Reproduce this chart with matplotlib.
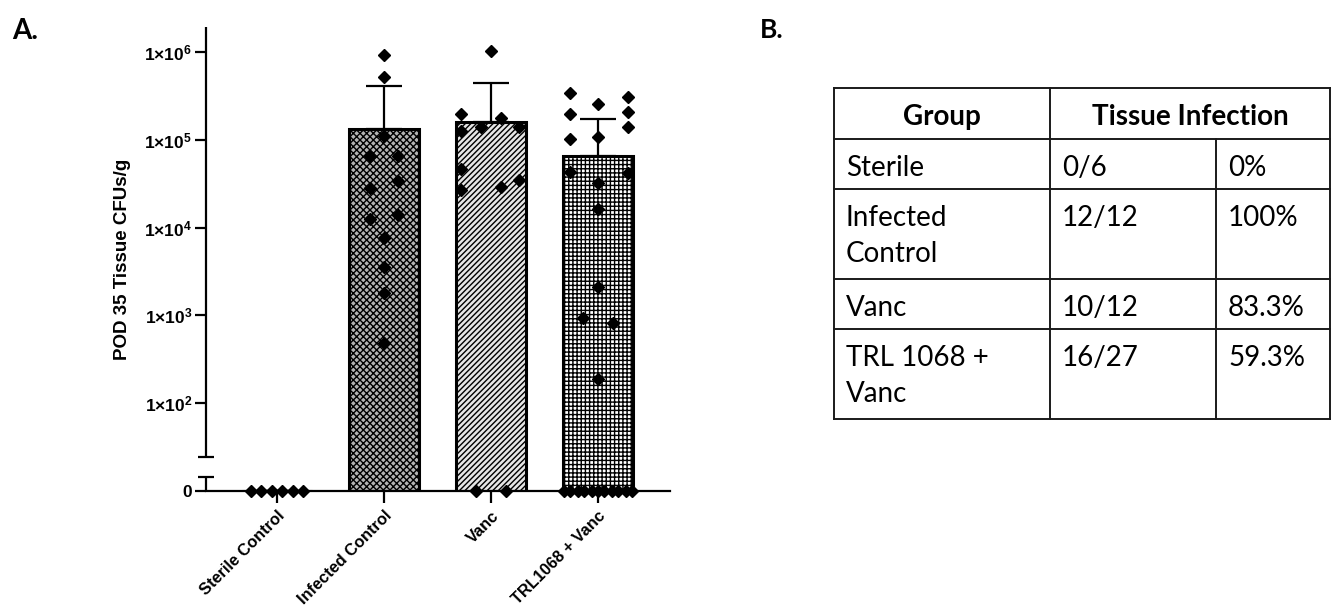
import numpy as np
import matplotlib
matplotlib.use("Agg")
from matplotlib import pyplot as plt

# panel A data
groups = ["Sterile Control", "Infected Control", "Vanc", "TRL1068 + Vanc"]
bar_mean = [0, 1.33e5, 1.6e5, 6.6e4]
bar_err_top = [0, 4.1e5, 4.45e5, 1.73e5]
hatches = ["", "xxxxx", "//////", "++++"]
bar_faces = ["white", "#b4b4b4", "#e6e6e6", "white"]

sterile_cfu = [0, 0, 0, 0, 0, 0]
sterile_dx = [-0.24, -0.15, -0.05, 0.05, 0.15, 0.24]

infected_cfu = [9.2e5, 5.15e5, 1.11e5, 6.6e4, 6.6e4, 3.4e4, 2.8e4, 1.26e4,
                1.4e4, 7.7e3, 3.6e3, 1.8e3, 4.9e2]
infected_dx = [0, 0, 0, -0.13, 0.13, 0.13, -0.13, -0.13, 0.13, 0, 0, 0, 0]

vanc_cfu = [1.03e6, 1.97e5, 1.78e5, 1.4e5, 1.27e5, 1.4e5, 4.7e4, 3.5e4,
            2.7e4, 2.9e4, 0, 0]
vanc_dx = [0, -0.28, 0.09, -0.09, -0.28, 0.26, -0.28, 0.26, -0.28, 0.09,
           -0.14, 0.14]

trl_cfu = [3.4e5, 1.97e5, 1.03e5, 2.57e5, 1.08e5, 3.1e5, 2.08e5, 1.4e5,
           4.3e4, 4.2e4, 3.2e4, 1.64e4, 2.1e3, 9.3e2, 8.1e2, 1.88e2,
           0, 0, 0, 0, 0, 0, 0, 0, 0, 0, 0]
trl_dx = [-0.26, -0.26, -0.26, 0, 0, 0.28, 0.28, 0.28, -0.26, 0.28, 0, 0, 0,
          -0.14, 0.14, 0,
          -0.32, -0.26, -0.19, -0.13, -0.06, 0, 0.06, 0.13, 0.19, 0.26, 0.32]

ytick_vals = [0, 1e2, 1e3, 1e4, 1e5, 1e6]
ytick_labels = ["0", "1×10$^{2}$", "1×10$^{3}$", "1×10$^{4}$", "1×10$^{5}$", "1×10$^{6}$"]

# panel B data
tbl_header = ["Group", "Tissue Infection"]
tbl_group = ["Sterile", "Infected\nControl", "Vanc", "TRL 1068 +\nVanc"]
tbl_count = ["0/6", "12/12", "10/12", "16/27"]
tbl_pct = ["0%", "100%", "83.3%", "59.3%"]

plt.rcParams["mathtext.default"] = "regular"
plt.rcParams["hatch.linewidth"] = 1.0

# segmented axis: linear 0..Y_BREAK at the bottom, log above
Y_BREAK = 24.3
G_BREAK = np.log10(Y_BREAK)
G_ZERO = 1.0


def fwd(y):
    y = np.asarray(y, dtype=float)
    lg = np.log10(np.clip(y, 1e-300, None))
    lin = G_ZERO + (G_BREAK - G_ZERO) * y / Y_BREAK
    return np.where(y >= Y_BREAK, lg, lin)


def inv(g):
    g = np.asarray(g, dtype=float)
    ex = 10 ** np.clip(g, -300, 300)
    lin = (g - G_ZERO) / (G_BREAK - G_ZERO) * Y_BREAK
    return np.where(g >= G_BREAK, ex, lin)


W, H = 1333, 613
fig = plt.figure(figsize=(W / 100, H / 100), dpi=100)

ax = fig.add_axes([206 / W, 1 - 491 / H, 464 / W, 464 / H])
ax.set_yscale("function", functions=(fwd, inv))
ytop = 10 ** 6.284
ax.set_ylim(0, ytop)
ax.set_xlim(-0.664, 3.673)

x = np.arange(len(groups))
bars = ax.bar(x, bar_mean, width=0.654, color=bar_faces, edgecolor="black",
              linewidth=2.2, zorder=2)
for b, h in zip(bars, hatches):
    b.set_hatch(h)
err_up = np.array(bar_err_top) - np.array(bar_mean)
ax.errorbar(x, bar_mean, yerr=[np.zeros(len(x)), err_up], fmt="none",
            ecolor="black", elinewidth=1.6, capsize=13.3, capthick=1.6, zorder=3)

for i, (vals, dx) in enumerate([(sterile_cfu, sterile_dx), (infected_cfu, infected_dx),
                                (vanc_cfu, vanc_dx), (trl_cfu, trl_dx)]):
    ax.plot(i + np.array(dx), vals, "D", color="black", ms=6.6, ls="none",
            zorder=4, clip_on=False)

# axes styling
for s in ["top", "right", "left"]:
    ax.spines[s].set_visible(False)
ax.spines["bottom"].set_linewidth(1.6)
yt = ax.get_yaxis_transform()
ax.plot([0, 0], [Y_BREAK, ytop], transform=yt, color="black", lw=1.6,
        clip_on=False, solid_capstyle="butt")
ax.plot([0, 0], [0, 10], transform=yt, color="black", lw=1.6,
        clip_on=False, solid_capstyle="butt")
ax.plot([0, 0], [Y_BREAK, 10], transform=yt, marker="_", ms=11, mew=1.6,
        color="black", ls="none", clip_on=False)

ax.set_yticks(ytick_vals)
ax.set_yticklabels(ytick_labels, fontsize=12.5, fontweight="bold",
                   family="Liberation Sans")
ax.yaxis.set_minor_locator(matplotlib.ticker.NullLocator())
ax.tick_params(axis="y", direction="out", length=8, width=1.6, pad=2)

ax.set_xticks(x)
ax.set_xticklabels(groups, rotation=45, ha="right", rotation_mode="anchor",
                   fontsize=11.8, fontweight="bold", family="Liberation Sans")
ax.tick_params(axis="x", direction="out", length=8.5, width=1.6, pad=4)

ax.set_ylabel("POD 35 Tissue CFUs/g", fontsize=13.5, fontweight="bold",
              family="Liberation Sans")
ax.yaxis.set_label_coords(-0.162, 0.5)

fig.text(12 / W, 1 - 39 / H, "A.", fontsize=20, fontweight="bold",
         family="Lato", va="baseline")
fig.text(760 / W, 1 - 38 / H, "B.", fontsize=19, fontweight="bold",
         family="Lato", va="baseline")

# table (panel B)
tax = fig.add_axes([0, 0, 1, 1])
tax.set_xlim(0, W)
tax.set_ylim(H, 0)
tax.axis("off")

xs = [834, 1050, 1216, 1330]
ys = [88, 139, 189, 279, 329, 419]
lc = "#1a1a1a"
for yy in ys:
    tax.plot([xs[0], xs[-1]], [yy, yy], color=lc, lw=1.4)
for xx in [xs[0], xs[1], xs[3]]:
    tax.plot([xx, xx], [ys[0], ys[-1]], color=lc, lw=1.4)
tax.plot([xs[2], xs[2]], [ys[1], ys[-1]], color=lc, lw=1.4)

tfont = dict(family="Lato", fontsize=20, color="black")
tax.text((xs[0] + xs[1]) / 2, 125, tbl_header[0], ha="center", va="baseline",
         fontweight="bold", **tfont)
tax.text((xs[1] + xs[3]) / 2, 125, tbl_header[1], ha="center", va="baseline",
         fontweight="bold", **tfont)
for r in range(len(tbl_group)):
    top = ys[r + 1]
    for cx, cell in zip([846, 1062, 1228], [tbl_group[r], tbl_count[r], tbl_pct[r]]):
        for k, line in enumerate(cell.split("\n")):
            tax.text(cx, top + 37 + k * 36, line, ha="left", va="baseline", **tfont)

fig.savefig("out.png", dpi=100)
